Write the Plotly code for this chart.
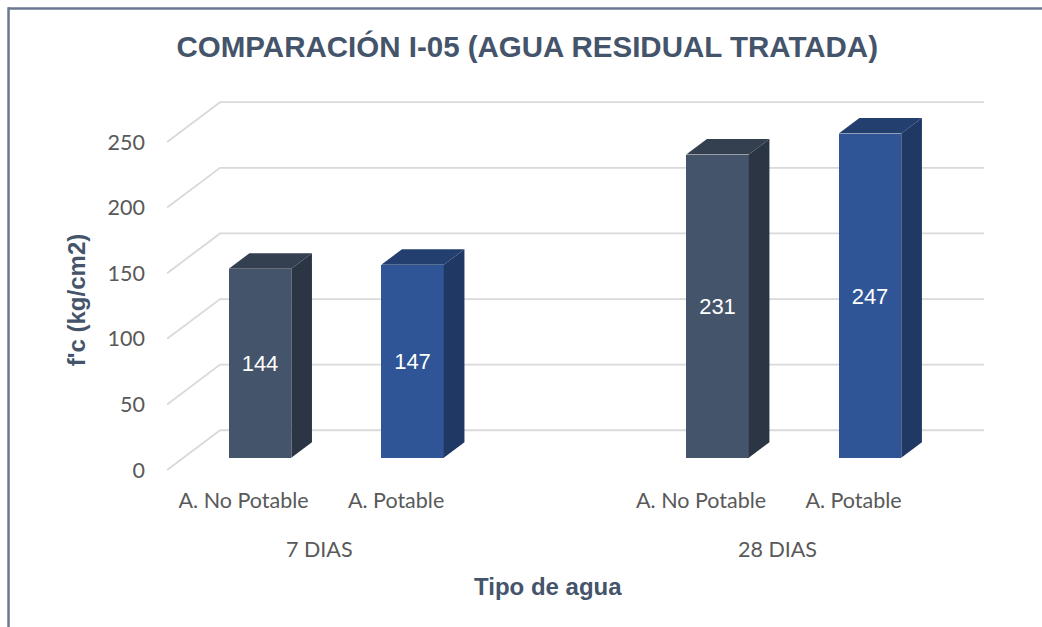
import plotly.graph_objects as go

# ---- data ----
groups = ["7 DIAS", "28 DIAS"]
water_types = ["A. No Potable", "A. Potable"]
no_potable = [144, 231]
potable = [147, 247]
y_ticks = [0, 50, 100, 150, 200, 250]

title = "COMPARACIÓN I-05 (AGUA RESIDUAL TRATADA)"
y_title = "f'c (kg/cm2)"
x_title = "Tipo de agua"

# ---- styling / 3D geometry (in axis units) ----
front_cols = ["#44546A", "#2F5597"]
side_cols = ["#2B3544", "#1F3864"]
top_cols = ["#343F50", "#233F70"]
BAR_W = 0.41
DEPTH_DX = 0.3475      # full floor depth, x units
DEPTH_DY = 30.3        # full floor depth, y units
F_FRONT = 0.31         # bars' front plane as fraction of depth
F_BAR = 0.39           # bar depth as fraction of depth
WALL_LEFT = -0.262
WALL_RIGHT = 4.748
X_RANGE = [-0.656, 4.787]
Y_RANGE = [-17.0, 276.4]
GRID = "#D9D9D9"
BORDER = "#6B7890"
TICK_FONT = dict(family="Lato", size=21.5, color="#595959")

bdx = F_BAR * DEPTH_DX
bdy = F_BAR * DEPTH_DY
front_off_x = -F_FRONT * DEPTH_DX
front_off_y = -F_FRONT * DEPTH_DY
back_off_y = (1 - F_FRONT) * DEPTH_DY

series = [no_potable, potable]
fig = go.Figure()

for t, vals in enumerate(series):
    xs = [g * 3 + t for g in range(len(groups))]
    fig.add_trace(go.Bar(
        x=xs, y=vals, width=BAR_W,
        marker=dict(color=front_cols[t], line=dict(width=0)),
        text=[str(v) for v in vals], textposition="inside",
        insidetextanchor="middle", textangle=0,
        textfont=dict(family="Liberation Sans, Arial", size=22, color="white"),
        showlegend=False, hoverinfo="skip", name=water_types[t],
    ))
    for x, v in zip(xs, vals):
        r = x + BAR_W / 2
        l = x - BAR_W / 2
        # side face
        fig.add_trace(go.Scatter(
            x=[r, r + bdx, r + bdx, r, r], y=[0, bdy, v + bdy, v, 0],
            fill="toself", fillcolor=side_cols[t], mode="lines",
            line=dict(width=0, color=side_cols[t]),
            showlegend=False, hoverinfo="skip"))
        # top face
        fig.add_trace(go.Scatter(
            x=[l, r, r + bdx, l + bdx, l], y=[v, v, v + bdy, v + bdy, v],
            fill="toself", fillcolor=top_cols[t], mode="lines",
            line=dict(width=0, color=top_cols[t]),
            showlegend=False, hoverinfo="skip"))

shapes = []
for v in y_ticks:
    x0 = WALL_LEFT - DEPTH_DX
    y0 = v + front_off_y
    y1 = v + back_off_y
    shapes.append(dict(
        type="path", xref="x", yref="y", layer="below",
        path=f"M {x0},{y0} L {WALL_LEFT},{y1} L {WALL_RIGHT},{y1}",
        line=dict(color=GRID, width=1.8)))

# chart border (top and left edges; the others run off the picture)
shapes.append(dict(type="line", xref="paper", yref="paper",
                   x0=-0.183, x1=1.2, y0=1.225, y1=1.225,
                   line=dict(color=BORDER, width=2.5), layer="above"))
shapes.append(dict(type="line", xref="paper", yref="paper",
                   x0=-0.1825, x1=-0.1825, y0=-0.5, y1=1.228,
                   line=dict(color=BORDER, width=2.5), layer="above"))

annotations = []
for g, name in enumerate(groups):
    annotations.append(dict(
        x=g * 3 + 0.5 + front_off_x, xref="x", y=0, yref="paper",
        yanchor="middle", yshift=-69, text=name, showarrow=False,
        font=TICK_FONT))
annotations.append(dict(
    x=0.4675, xref="paper", y=0, yref="paper", yanchor="middle", yshift=-106,
    text=f"<b>{x_title}</b>", showarrow=False,
    font=dict(family="Liberation Sans, Arial", size=24, color="#44546A")))
annotations.append(dict(
    x=-0.101, xref="paper", y=0.4675, yref="paper", xanchor="center",
    yanchor="middle", textangle=-90, text=f"<b>{y_title}</b>", showarrow=False,
    font=dict(family="Liberation Sans, Arial", size=24, color="#44546A")))

x_tickvals = [g * 3 + t + front_off_x for g in range(len(groups)) for t in range(len(water_types))]
x_ticktext = [w for _ in groups for w in water_types]

fig.update_layout(
    width=1042, height=627,
    margin=dict(l=160, r=52, t=95, b=147),
    paper_bgcolor="white", plot_bgcolor="white",
    title=dict(text=f"<b>{title}</b>", x=0.506, xref="container", xanchor="center",
               y=1 - 47 / 627, yref="container", yanchor="middle",
               font=dict(family="Liberation Sans, Arial", size=29.5, color="#44546A")),
    xaxis=dict(range=X_RANGE, showgrid=False, zeroline=False, showline=False,
               tickvals=x_tickvals, ticktext=x_ticktext, ticks="",
               ticklabelstandoff=5, tickfont=TICK_FONT, fixedrange=True),
    yaxis=dict(range=Y_RANGE, showgrid=False, zeroline=False, showline=False,
               tickvals=[v + front_off_y for v in y_ticks],
               ticktext=[str(v) for v in y_ticks], ticks="",
               ticklabelstandoff=14, tickfont=TICK_FONT, fixedrange=True),
    shapes=shapes, annotations=annotations, showlegend=False, bargap=0,
)

fig.write_html(
    "out.html",
    config={"displayModeBar": False},
    post_script="document.body.style.margin='0px';document.body.style.overflow='hidden';",
)
